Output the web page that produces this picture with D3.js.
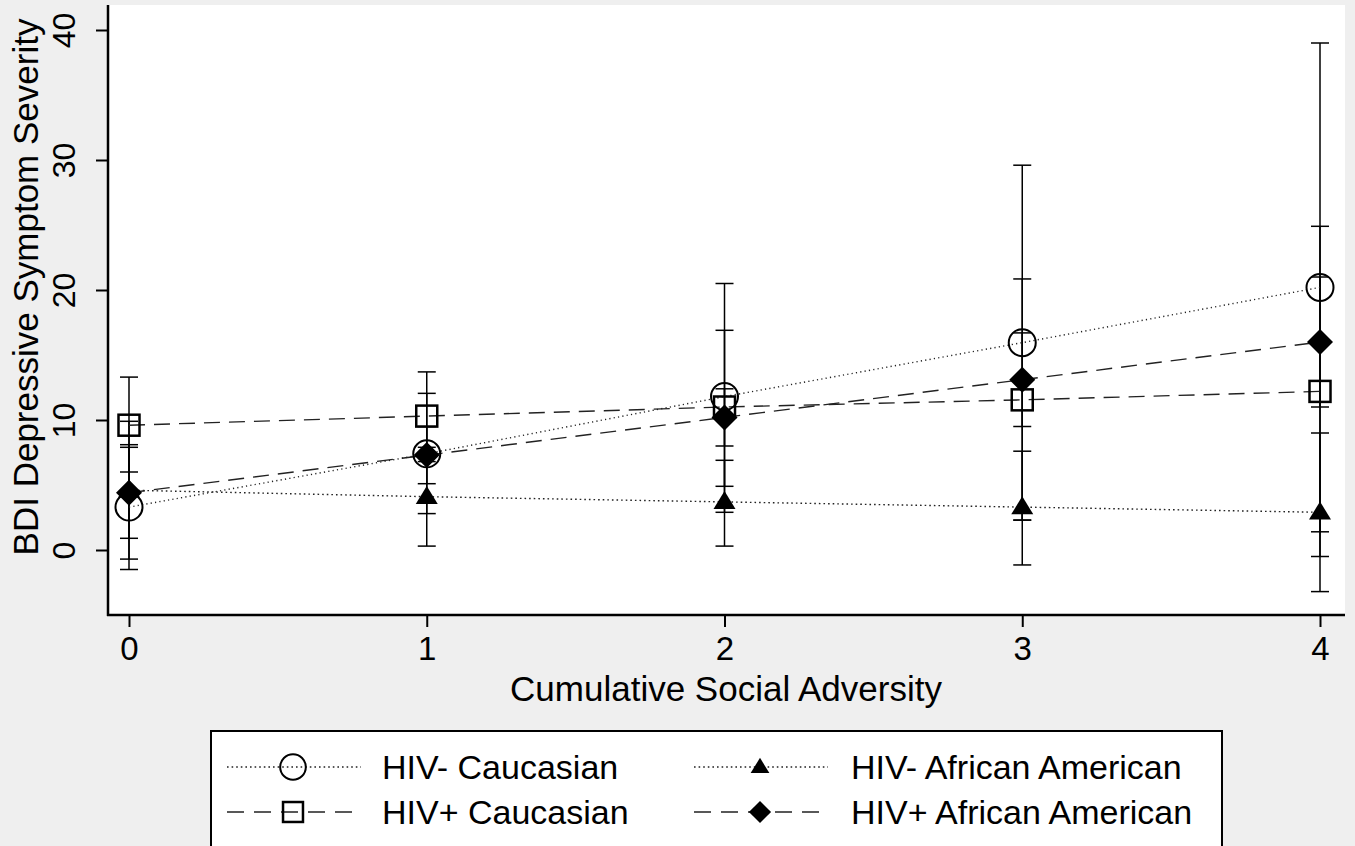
<!DOCTYPE html>
<html>
<head>
<meta charset="utf-8">
<script src="https://cdn.jsdelivr.net/npm/d3@7"></script>
<style>
  html, body { margin: 0; padding: 0; background: #efefef; }
  svg { display: block; font-family: "Liberation Sans", Arial, sans-serif; }
</style>
</head>
<body>
<svg id="chart" width="1355" height="846"></svg>
<script>
// ---- data ----
const xTicks = [0, 1, 2, 3, 4];
const yTicks = [0, 10, 20, 30, 40];
const seriesNames = ["HIV- Caucasian", "HIV- African American", "HIV+ Caucasian", "HIV+ African American"];

const hivNegCauMean = [3.3, 7.4, 11.8, 15.95, 20.2];
const hivNegCauLo   = [-1.5, 2.8, 2.9, 2.3, 1.4];
const hivNegCauHi   = [8.1, 12.05, 20.5, 29.6, 39.0];

const hivNegAAMean  = [4.6, 4.1, 3.7, 3.3, 2.9];
const hivNegAALo    = [-0.7, 0.3, 0.3, -1.15, -3.2];
const hivNegAAHi    = [9.9, 7.9, 6.9, 7.6, 9.0];

const hivPosCauMean = [9.6, 10.3, 11.0, 11.55, 12.2];
const hivPosCauLo   = [6.0, 6.8, 4.9, 2.3, -0.5];
const hivPosCauHi   = [13.3, 13.7, 16.9, 20.85, 24.9];

const hivPosAAMean  = [4.4, 7.3, 10.2, 13.1, 16.0];
const hivPosAALo    = [0.9, 5.1, 8.0, 9.5, 11.0];
const hivPosAAHi    = [7.9, 9.5, 12.4, 16.7, 21.0];

const xTitle = "Cumulative Social Adversity";
const yTitle = "BDI Depressive Symptom Severity";

// ---- build series ----
const series = [
  { name: seriesNames[0], mean: hivNegCauMean, lo: hivNegCauLo, hi: hivNegCauHi, marker: "circle",   dash: "1.2,3.2", ldash: "1.6,3" },
  { name: seriesNames[1], mean: hivNegAAMean,  lo: hivNegAALo,  hi: hivNegAAHi,  marker: "triangle", dash: "1.6,3",   ldash: "1.6,3" },
  { name: seriesNames[2], mean: hivPosCauMean, lo: hivPosCauLo, hi: hivPosCauHi, marker: "square",   dash: "16,9",    ldash: "17,10" },
  { name: seriesNames[3], mean: hivPosAAMean,  lo: hivPosAALo,  hi: hivPosAAHi,  marker: "diamond",  dash: "16,9",    ldash: "17,10" }
];

const svg = d3.select("#chart");
const plot = { left: 108, right: 1345, top: 5, bottom: 615 };

const x = d3.scaleLinear().domain([0, 4]).range([129, 1320]);
const y = d3.scaleLinear().domain([0, 40]).range([550, 30]);

// plot region
svg.append("rect")
  .attr("x", plot.left).attr("y", plot.top)
  .attr("width", plot.right - plot.left).attr("height", plot.bottom - plot.top)
  .attr("fill", "#ffffff");

// axes
const yAxis = d3.axisLeft(y).tickValues(yTicks).tickSize(12).tickPadding(0).tickFormat(d3.format("d"));
const gy = svg.append("g").attr("transform", `translate(${plot.left},0)`).call(yAxis);
gy.select(".domain").remove();
gy.selectAll(".tick line").attr("stroke", "#000").attr("stroke-width", 2);
gy.selectAll(".tick text").remove();
gy.selectAll(".tick").append("text")
  .attr("transform", "translate(-33,0) rotate(-90)")
  .attr("text-anchor", "middle")
  .attr("fill", "#000")
  .attr("font-size", 32)
  .text(d => d);

const xAxis = d3.axisBottom(x).tickValues(xTicks).tickSize(12).tickPadding(0).tickFormat(d3.format("d"));
const gx = svg.append("g").attr("transform", `translate(0,${plot.bottom})`).call(xAxis);
gx.select(".domain").remove();
gx.selectAll(".tick line").attr("stroke", "#000").attr("stroke-width", 2);
gx.selectAll(".tick text").attr("font-size", 33).attr("fill", "#000")
  .attr("y", 45).attr("dy", 0);

// axis lines
svg.append("line").attr("x1", plot.left).attr("x2", plot.left).attr("y1", plot.top).attr("y2", plot.bottom + 1)
  .attr("stroke", "#000").attr("stroke-width", 2.5);
svg.append("line").attr("x1", plot.left - 1).attr("x2", plot.right).attr("y1", plot.bottom).attr("y2", plot.bottom)
  .attr("stroke", "#000").attr("stroke-width", 2.5);

// titles
svg.append("text").attr("x", 726).attr("y", 701).attr("text-anchor", "middle")
  .attr("font-size", 35).attr("fill", "#000").text(xTitle);
svg.append("text").attr("transform", `translate(38,${(y(0) + y(40)) / 2 - 3}) rotate(-90)`)
  .attr("text-anchor", "middle").attr("font-size", 35).attr("fill", "#000").text(yTitle);

// error bars
const capW = 9;
const eb = svg.append("g").attr("stroke", "#000").attr("stroke-width", 1.5);
series.forEach(s => {
  xTicks.forEach((xv, i) => {
    eb.append("line").attr("x1", x(xv)).attr("x2", x(xv)).attr("y1", y(s.lo[i])).attr("y2", y(s.hi[i]));
    eb.append("line").attr("x1", x(xv) - capW).attr("x2", x(xv) + capW).attr("y1", y(s.lo[i])).attr("y2", y(s.lo[i]));
    eb.append("line").attr("x1", x(xv) - capW).attr("x2", x(xv) + capW).attr("y1", y(s.hi[i])).attr("y2", y(s.hi[i]));
  });
});

// connecting lines
const line = d3.line().x((d, i) => x(xTicks[i])).y(d => y(d));
series.forEach(s => {
  svg.append("path").datum(s.mean).attr("d", line)
    .attr("fill", "none").attr("stroke", "#222").attr("stroke-width", 1.4)
    .attr("stroke-dasharray", s.dash);
});

// markers
function drawMarker(g, type, cx, cy, scale) {
  const k = scale || 1;
  if (type === "circle") {
    g.append("circle").attr("cx", cx).attr("cy", cy).attr("r", 13.5 * k)
      .attr("fill", "none").attr("stroke", "#000").attr("stroke-width", 2);
  } else if (type === "square") {
    const h = 10.5 * k;
    g.append("rect").attr("x", cx - h).attr("y", cy - h).attr("width", 2 * h).attr("height", 2 * h)
      .attr("fill", "none").attr("stroke", "#000").attr("stroke-width", 2.5);
  } else if (type === "diamond") {
    const h = 13 * k;
    g.append("path").attr("d", `M${cx},${cy - h}L${cx + h},${cy}L${cx},${cy + h}L${cx - h},${cy}Z`)
      .attr("fill", "#000");
  } else if (type === "triangle") {
    const w = 11 * k, hh = 18 * k;
    g.append("path").attr("d", `M${cx},${cy - hh * 0.6}L${cx + w},${cy + hh * 0.4}L${cx - w},${cy + hh * 0.4}Z`)
      .attr("fill", "#000");
  }
}
const mk = svg.append("g");
series.forEach(s => {
  xTicks.forEach((xv, i) => drawMarker(mk, s.marker, x(xv), y(s.mean[i]), 1));
});

// legend
const lg = svg.append("g");
lg.append("rect").attr("x", 211).attr("y", 731).attr("width", 1011).attr("height", 130)
  .attr("fill", "#fff").attr("stroke", "#000").attr("stroke-width", 2);
const legendPos = [
  { col: 0, row: 0 }, { col: 1, row: 0 }, { col: 0, row: 1 }, { col: 1, row: 1 }
];
const colX = [227, 694];
const textX = [382, 851];
const rowY = [767, 812];
const markerScale = { circle: 0.95, square: 0.95, diamond: 0.85, triangle: 0.85 };
series.forEach((s, i) => {
  const p = legendPos[i];
  const x0 = colX[p.col], cy = rowY[p.row];
  lg.append("line").attr("x1", x0).attr("x2", x0 + 134).attr("y1", cy).attr("y2", cy)
    .attr("stroke", "#222").attr("stroke-width", 1.4).attr("stroke-dasharray", s.ldash);
  drawMarker(lg, s.marker, x0 + 66, cy, markerScale[s.marker]);
  lg.append("text").attr("x", textX[p.col]).attr("y", cy + 12).attr("font-size", 34).attr("fill", "#000").text(s.name);
});
</script>
</body>
</html>
